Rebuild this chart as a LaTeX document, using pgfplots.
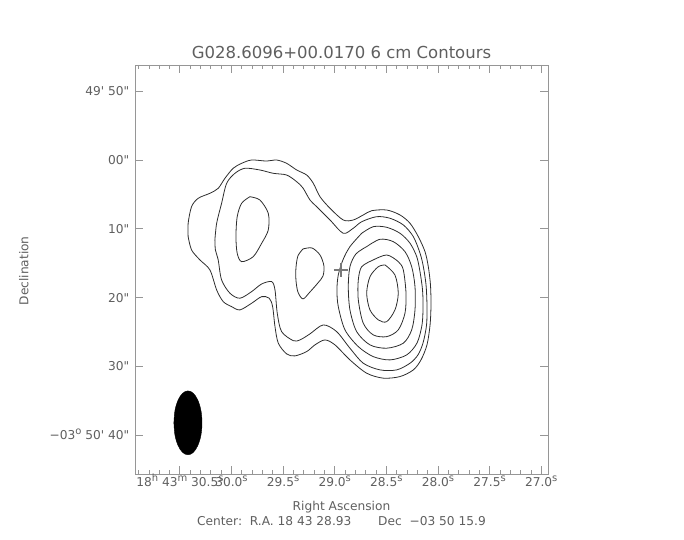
\documentclass[border=0pt]{standalone}
\usepackage{pgfplots}
\pgfplotsset{compat=1.18}
\usepackage{fontspec}
\setmainfont{DejaVu Sans}
\definecolor{txt}{RGB}{95,95,95}
\definecolor{frm}{RGB}{150,150,150}
\definecolor{cnt}{RGB}{45,45,45}
\definecolor{crs}{RGB}{120,120,120}
\newcommand\sups[1]{\raisebox{5.5bp}{\fontsize{10bp}{10bp}\selectfont #1}}
\newcommand\lbl{\fontsize{12.2bp}{14bp}\selectfont}
\begin{document}
\begin{tikzpicture}
\path[use as bounding box] (0,0) rectangle (684bp,540bp);
\begin{axis}[
  scale only axis, width=413bp, height=409bp,
  at={(135.5bp,66bp)}, anchor=south west,
  xmin=26.93, xmax=30.93, ymin=-45.6, ymax=13.8,
  x dir=reverse,
  axis line style={frm, line width=0.8bp},
  tick style={frm, line width=0.8bp},
  tick align=inside,
  major tick length=8bp, minor tick length=4bp,
  xtick={30.5,30,29.5,29,28.5,28,27.5,27},
  xticklabels={18\sups{h} 43\sups{m} 30.5\sups{s},30.0\sups{s},29.5\sups{s},29.0\sups{s},28.5\sups{s},28.0\sups{s},27.5\sups{s},27.0\sups{s}},
  minor xtick={27.1,27.2,27.3,27.4,27.6,27.7,27.8,27.9,28.1,28.2,28.3,28.4,28.6,28.7,28.8,28.9,29.1,29.2,29.3,29.4,29.6,29.7,29.8,29.9,30.1,30.2,30.3,30.4,30.6,30.7,30.8,30.9},
  ytick={10,0,-10,-20,-30,-40},
  yticklabels={49\textquotesingle{} 50\textquotedbl,00\textquotedbl,10\textquotedbl,20\textquotedbl,30\textquotedbl,−03\sups{o} 50\textquotesingle{} 40\textquotedbl},
  xticklabel style={anchor=base, yshift=-13bp, inner sep=0pt, text=txt, font=\lbl},
  yticklabel style={anchor=base east, xshift=-6bp, yshift=-4.4bp, inner sep=0pt, text=txt, font=\lbl},
]
% contour 1 (outermost)
\addplot[cnt, line width=0.8bp, smooth, tension=0.5, mark=none] coordinates {
(30.420,-11.13) (30.420,-9.19) (30.387,-6.78) (30.323,-5.56) (30.209,-4.83) (30.129,-4.11) (30.064,-2.66) (29.984,-1.20) (29.902,-0.48) (29.805,0.00) (29.660,-0.15) (29.563,0.00) (29.466,-0.48) (29.369,-1.45) (29.272,-2.18) (29.208,-3.38) (29.143,-5.33) (29.046,-7.01) (28.918,-8.71) (28.821,-8.71) (28.724,-7.98) (28.642,-7.36) (28.497,-7.26) (28.368,-7.98) (28.271,-9.19) (28.191,-11.13) (28.126,-13.31) (28.094,-15.49) (28.073,-18.14) (28.068,-21.05) (28.077,-23.95) (28.107,-26.85) (28.165,-29.03) (28.239,-30.48) (28.368,-31.45) (28.530,-31.68) (28.691,-30.96) (28.853,-29.03) (28.998,-26.85) (29.095,-26.13) (29.192,-26.85) (29.272,-27.82) (29.386,-28.45) (29.466,-28.16) (29.547,-26.60) (29.579,-24.19) (29.602,-21.29) (29.635,-20.07) (29.708,-19.84) (29.805,-20.80) (29.919,-21.77) (29.999,-21.29) (30.080,-20.57) (30.144,-18.87) (30.209,-15.97) (30.306,-14.51) (30.387,-13.06) (30.420,-11.13)};
% contour 2
\addplot[cnt, line width=0.8bp, smooth, tension=0.5, mark=none] coordinates {
(30.161,-11.61) (30.144,-9.19) (30.096,-6.28) (30.047,-3.38) (29.967,-1.93) (29.870,-1.20) (29.725,-1.45) (29.596,-1.93) (29.466,-2.18) (29.369,-3.15) (29.308,-4.06) (29.240,-5.81) (29.175,-6.78) (29.046,-8.71) (28.918,-10.64) (28.821,-9.91) (28.739,-8.96) (28.594,-8.23) (28.465,-8.46) (28.336,-9.43) (28.239,-11.13) (28.174,-13.54) (28.142,-15.49) (28.116,-18.14) (28.107,-21.05) (28.111,-23.95) (28.145,-26.56) (28.194,-28.30) (28.271,-29.51) (28.400,-30.48) (28.562,-30.48) (28.724,-29.51) (28.853,-27.33) (28.982,-24.92) (29.111,-23.95) (29.240,-25.25) (29.337,-26.13) (29.402,-26.23) (29.515,-24.92) (29.557,-22.25) (29.579,-18.87) (29.611,-17.66) (29.708,-18.00) (29.805,-19.11) (29.919,-20.07) (30.015,-19.35) (30.096,-17.42) (30.129,-14.51) (30.156,-13.06) (30.161,-11.61)};
% contour 3 (left blob)
\addplot[cnt, line width=0.8bp, smooth, tension=0.5, mark=none] coordinates {
(29.822,-5.33) (29.725,-5.81) (29.644,-7.74) (29.644,-10.16) (29.708,-12.09) (29.790,-14.04) (29.902,-14.76) (29.945,-13.54) (29.957,-11.13) (29.945,-8.23) (29.902,-6.28) (29.822,-5.33)};
% contour 3 (middle blob)
\addplot[cnt, line width=0.8bp, smooth, tension=0.5, mark=none] coordinates {
(29.308,-12.92) (29.221,-12.77) (29.143,-13.79) (29.105,-15.38) (29.114,-16.84) (29.163,-17.85) (29.240,-19.16) (29.308,-20.17) (29.357,-19.16) (29.376,-17.42) (29.376,-15.68) (29.357,-13.93) (29.308,-12.92)};
% contour 3 (peak)
\addplot[cnt, line width=0.8bp, smooth, tension=0.5, mark=none] coordinates {
(28.739,-10.64) (28.627,-9.68) (28.497,-9.77) (28.368,-10.64) (28.271,-12.09) (28.206,-14.04) (28.174,-16.26) (28.150,-18.87) (28.145,-21.34) (28.155,-23.95) (28.203,-26.56) (28.303,-28.30) (28.465,-29.03) (28.627,-28.55) (28.772,-27.10) (28.901,-24.67) (28.966,-21.29) (28.979,-18.87) (28.966,-16.69) (28.921,-14.51) (28.853,-12.58) (28.739,-10.64)};
% contour 4
\addplot[cnt, line width=0.8bp, smooth, tension=0.5, mark=none] coordinates {
(28.691,-12.58) (28.562,-11.51) (28.433,-11.86) (28.320,-13.31) (28.255,-15.49) (28.223,-18.39) (28.223,-21.77) (28.255,-24.67) (28.336,-26.60) (28.497,-27.33) (28.659,-26.85) (28.788,-24.92) (28.853,-21.77) (28.869,-18.39) (28.853,-15.49) (28.795,-13.64) (28.691,-12.58)};
% contour 5
\addplot[cnt, line width=0.8bp, smooth, tension=0.5, mark=none] coordinates {
(28.627,-14.51) (28.497,-13.79) (28.385,-14.76) (28.336,-15.97) (28.310,-19.35) (28.320,-22.25) (28.385,-24.67) (28.497,-25.65) (28.627,-25.40) (28.724,-23.70) (28.772,-20.32) (28.772,-17.42) (28.739,-15.49) (28.627,-14.51)};
% contour 6
\addplot[cnt, line width=0.8bp, smooth, tension=0.5, mark=none] coordinates {
(28.513,-15.24) (28.417,-16.69) (28.385,-19.35) (28.417,-21.77) (28.497,-23.47) (28.578,-23.22) (28.659,-21.77) (28.691,-19.35) (28.659,-16.94) (28.578,-15.49) (28.513,-15.24)};
% beam
\addplot[black, fill=black, smooth, tension=0.6, mark=none] coordinates {
(30.558,-38.17) (30.548,-36.39) (30.518,-34.89) (30.474,-33.88) (30.422,-33.53) (30.370,-33.88) (30.326,-34.89) (30.296,-36.39) (30.286,-38.17) (30.296,-39.95) (30.326,-41.45) (30.370,-42.46) (30.422,-42.81) (30.474,-42.46) (30.518,-41.45) (30.548,-39.95) (30.558,-38.17)};
% center cross
\addplot[only marks, mark=+, mark size=7bp, mark options={crs, line width=1.8bp}] coordinates {(28.94,-16.0)};
\end{axis}
\node[anchor=base, text=txt, font=\fontsize{16.5bp}{18bp}\selectfont, inner sep=0pt] at (341.5bp,481.7bp) {G028.6096+00.0170 6 cm Contours};
\node[anchor=base, text=txt, font=\lbl, inner sep=0pt] at (341.5bp,29.3bp) {Right Ascension};
\node[anchor=base, text=txt, font=\lbl, inner sep=0pt] at (341.5bp,15bp) {Center:\ \ R.A. 18 43 28.93\hspace{2.2em}Dec\ \ −03 50 15.9};
\node[anchor=base, rotate=90, text=txt, font=\lbl, inner sep=0pt] at (28.3bp,269.2bp) {Declination};
\end{tikzpicture}
\end{document}
